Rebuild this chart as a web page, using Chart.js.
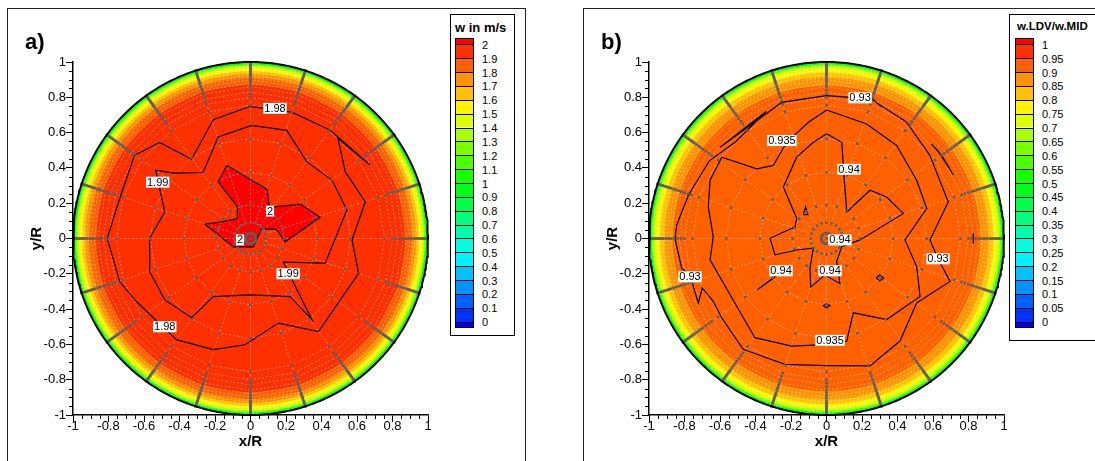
<!DOCTYPE html>
<html>
<head>
<meta charset="utf-8">
<title>w contours</title>
<script src="https://cdn.jsdelivr.net/npm/chart.js@4.4.1/dist/chart.umd.min.js"></script>
<style>
  body { margin: 0; width: 1095px; height: 461px; overflow: hidden; position: relative; background: #fff;
         font-family: "Liberation Sans", Arial, sans-serif; }
  .frame { position: absolute; border: 1px solid #222; }
  .tag { position: absolute; font-weight: bold; font-size: 22px; line-height: 22px; }
  canvas { position: absolute; top: 0; }
  .legend { position: absolute; border: 1px solid #000; background: #fff; }
  .legend .title { position: absolute; font-weight: bold; white-space: nowrap; }
  .legend .bar { position: absolute; border: 1px solid #000; width: 17px; }
  .legend .cell { position: absolute; left: 0; right: 0; box-sizing: border-box; }
  .legend .lbl { position: absolute; font-size: 11px; line-height: 11px; white-space: nowrap; }
</style>
</head>
<body>
<div class="frame" style="left:7px;top:8px;width:517px;height:470px"></div>
<div class="frame" style="left:583px;top:8px;width:600px;height:470px"></div>
<canvas id="chartA" width="540" height="461" style="left:0"></canvas>
<canvas id="chartB" width="535" height="461" style="left:560px"></canvas>
<div class="tag" style="left:25px;top:31px">a)</div>
<div class="tag" style="left:601px;top:31px">b)</div>
<div class="legend" id="legA" style="left:450px;top:14px;width:63px;height:320px"></div>
<div class="legend" id="legB" style="left:1009px;top:14px;width:120px;height:325px"></div>

<script>
//axis tick labels (x/R and y/R)
var tickLabels = ['-1', '-0.8', '-0.6', '-0.4', '-0.2', '0', '0.2', '0.4', '0.6', '0.8', '1'];

//legend levels
var aLegendLabels = ['2', '1.9', '1.8', '1.7', '1.6', '1.5', '1.4', '1.3', '1.2', '1.1', '1', '0.9', '0.8', '0.7', '0.6', '0.5', '0.4', '0.3', '0.2', '0.1', '0'];
var bLegendLabels = ['1', '0.95', '0.9', '0.85', '0.8', '0.75', '0.7', '0.65', '0.6', '0.55', '0.5', '0.45', '0.4', '0.35', '0.3', '0.25', '0.2', '0.15', '0.1', '0.05', '0'];

//measurement grid: spokes (deg) and probe radii
var spokeDeg = [0, 18, 36, 54, 72, 90, 108, 126, 144, 162, 180, 198, 216, 234, 252, 270, 288, 306, 324, 342];
var probeR = [0.03, 0.09, 0.19, 0.375, 0.565, 0.755, 0.8, 0.82, 0.84, 0.86, 0.875, 0.89, 0.905, 0.92, 0.93, 0.94, 0.95, 0.96, 0.97, 0.98, 0.99, 1.0];
var meshR = [0.09, 0.19, 0.375, 0.565, 0.755, 0.8, 0.83, 0.86, 0.88, 0.9, 0.915, 0.93, 0.945, 0.96, 0.975, 0.99];

//wall region: ring outer radius and value inside it
var aRingR = [1.0, 0.996, 0.992, 0.987, 0.981, 0.973, 0.962, 0.948, 0.932, 0.91, 0.87];
var aRingW = [0.45, 0.75, 0.95, 1.15, 1.35, 1.45, 1.55, 1.65, 1.75, 1.85, 1.95];
var bRingR = [1.0, 0.996, 0.992, 0.987, 0.98, 0.971, 0.958, 0.94, 0.913, 0.865];
var bRingW = [0.22, 0.37, 0.47, 0.57, 0.67, 0.72, 0.77, 0.82, 0.87, 0.93];

//panel a contour lines (x/R, y/R)
var a198 = [[0, 0.749], [0.233, 0.716], [0.449, 0.613], [0.675, 0.415], [0.493, 0.566], [0.534, 0.377], [0.647, 0.208], [0.572, -0.008], [0.609, -0.197], [0.383, -0.527], [0.157, -0.479], [-0.031, -0.602], [-0.21, -0.63], [-0.417, -0.573], [-0.643, -0.357], [-0.737, -0.244], [-0.807, 0.001], [-0.737, 0.227], [-0.653, 0.472], [-0.511, 0.544], [-0.332, 0.449], [-0.21, 0.673], [0, 0.749]];
var a199 = [[0.007, 0.641], [0.204, 0.613], [0.318, 0.434], [0.459, 0.331], [0.543, 0.161], [0.421, -0.14], [0.185, -0.134], [0.346, -0.46], [0.223, -0.329], [-0.003, -0.319], [-0.21, -0.329], [-0.332, -0.449], [-0.483, -0.347], [-0.568, -0.188], [-0.568, 0.001], [-0.483, 0.151], [-0.534, 0.387], [-0.432, 0.37], [-0.267, 0.374], [-0.182, 0.575], [0.007, 0.641]];
var a200 = [[-0.134, 0.415], [0.094, 0.278], [0.106, 0.176], [0.28, 0.195], [0.393, 0.12], [0.195, -0.019], [0.148, 0.05], [0.063, 0.056], [0.016, -0.047], [-0.031, -0.047], [-0.097, -0.047], [-0.257, 0.081], [-0.163, 0.094], [-0.074, 0.113], [-0.074, 0.18], [-0.182, 0.321], [-0.134, 0.415]];
var aLabelText = ['1.98', '1.98', '1.99', '1.99', '2', '2'];
var aLabelX = [0.138, -0.483, -0.523, 0.212, 0.11, -0.059];
var aLabelY = [0.737, -0.5, 0.319, -0.2, 0.155, -0.008];

//panel b contour lines
var b093 = [[0, 0.81], [-0.252, 0.771], [-0.6, 0.517], [-0.34, 0.72], [-0.51, 0.55], [-0.66, 0.44], [-0.778, 0.245], [-0.844, 0.076], [-0.854, 0], [-0.816, -0.168], [-0.769, -0.21], [-0.722, -0.365], [-0.7, -0.28], [-0.638, -0.356], [-0.59, -0.45], [-0.469, -0.628], [-0.234, -0.713], [0, -0.72], [0.245, -0.722], [0.414, -0.581], [0.508, -0.365], [0.696, -0.243], [0.628, -0.115], [0.583, -0.008], [0.686, 0.207], [0.583, 0.47], [0.45, 0.66], [0.28, 0.77], [0.311, 0.746], [0.26, 0.79], [0, 0.81]];
var b093Spike = [[0.59, 0.535], [0.65, 0.47], [0.715, 0.36], [0.625, 0.5], [0.59, 0.535]];
var b0935 = [[0.001, 0.728], [0.226, 0.649], [0.395, 0.527], [0.508, 0.33], [0.565, 0.17], [0.442, -0.008], [0.508, -0.159], [0.527, -0.328], [0.339, -0.459], [0.151, -0.421], [0.114, -0.581], [0.02, -0.6], [-0.196, -0.61], [-0.403, -0.562], [-0.506, -0.384], [-0.581, -0.252], [-0.656, -0.121], [-0.638, 0.01], [-0.666, 0.179], [-0.656, 0.33], [-0.59, 0.461], [-0.393, 0.395], [-0.3, 0.414], [-0.224, 0.545], [-0.1, 0.66], [0.001, 0.728]];
var b094 = [[0.001, 0.593], [0.086, 0.545], [0.099, 0.348], [0.114, 0.151], [0.245, 0.273], [0.339, 0.235], [0.433, 0.142], [0.189, -0.008], [0.086, -0.046], [0.057, -0.131], [0.076, -0.256], [-0.008, -0.206], [-0.089, -0.275], [-0.093, -0.168], [-0.074, -0.055], [-0.168, -0.065], [-0.29, -0.093], [-0.318, 0.001], [-0.177, 0.066], [-0.168, 0.114], [-0.243, 0.292], [-0.168, 0.461], [-0.074, 0.545], [0.001, 0.593]];
var b094Bits = [
  [[-0.39, -0.29], [-0.27, -0.2], [-0.3, -0.225], [-0.39, -0.29]],
  [[-0.13, 0.135], [-0.118, 0.18], [-0.105, 0.135], [-0.13, 0.135]],
  [[0.28, -0.222], [0.3, -0.205], [0.322, -0.225], [0.3, -0.24], [0.28, -0.222]],
  [[-0.02, -0.38], [0, -0.37], [0.02, -0.38], [0, -0.392], [-0.02, -0.38]],
  [[0.827, 0.03], [0.827, -0.03]]
];
var bLabelText = ['0.93', '0.93', '0.93', '0.935', '0.935', '0.94', '0.94', '0.94', '0.94'];
var bLabelX = [0.189, -0.769, 0.628, -0.251, 0.02, 0.127, 0.076, -0.256, 0.02];
var bLabelY = [0.797, -0.217, -0.115, 0.555, -0.577, 0.392, -0.008, -0.183, -0.183];

var FONT = '"Liberation Sans", Arial, sans-serif';
var GAP = {x: NaN, y: NaN};

function isMajor(v) {
    return Math.abs(v * 5 - Math.round(v * 5)) < 1e-6;
}

//legend cell k: 0 = above top level, 21 = below 0
function bandIndex(v, top, step) {
    if (v >= top) return 0;
    return Math.min(21, 1 + Math.floor((top - v) / step + 1e-9));
}
function bandColor(k) {
    return 'hsl(' + (240 * k / 21).toFixed(1) + ',100%,50%)';
}

function polar(r, deg) {
    var a = deg * Math.PI / 180;
    return {x: r * Math.cos(a), y: r * Math.sin(a)};
}
function circle(r, n) {
    var pts = [];
    for (var i = 0; i <= n; i++) pts.push(polar(r, 360 * i / n));
    return pts;
}
function toPts(list) {
    return list.map(function (p) { return {x: p[0], y: p[1]}; });
}
function joinLines(lines) {
    var out = [];
    lines.forEach(function (l) { out = out.concat(toPts(l)); out.push(GAP); });
    return out;
}

function meshData() {
    var pts = [];
    spokeDeg.forEach(function (d) { pts.push(polar(meshR[0], d), polar(1, d), GAP); });
    meshR.forEach(function (r) {
        spokeDeg.forEach(function (d) { pts.push(polar(r, d)); });
        pts.push(polar(r, spokeDeg[0]), GAP);
    });
    return pts;
}
function probeData() {
    var pts = [{x: 0, y: 0}];
    spokeDeg.forEach(function (d) {
        probeR.forEach(function (r) { pts.push(polar(r, d)); });
    });
    return pts;
}

function panelDatasets(p) {
    var ds = [];
    //colour flood, wall inwards
    p.ringR.forEach(function (r, i) {
        ds.push({data: circle(r, 200), showLine: true, fill: 'shape',
            backgroundColor: bandColor(bandIndex(p.ringW[i], p.top, p.step)),
            borderColor: 'rgba(0,0,0,0)', borderWidth: 0, pointRadius: 0});
    });
    //regions above the top level
    p.peaks.forEach(function (poly) {
        ds.push({data: toPts(poly), showLine: true, fill: 'shape', backgroundColor: bandColor(0),
            borderColor: 'rgba(0,0,0,0)', borderWidth: 0, pointRadius: 0});
    });
    //mesh
    ds.push({data: meshData(), showLine: true, borderColor: 'rgba(255,255,255,0.5)', borderWidth: 0.8,
        borderDash: [2, 2], pointRadius: 0});
    //contour lines
    ds.push({data: joinLines(p.lines), showLine: true, borderColor: '#000', borderWidth: 1.2, pointRadius: 0});
    //probe positions
    ds.push({data: probeData(), showLine: false, pointStyle: 'rect', pointRadius: 1.9,
        backgroundColor: '#5e5e5e', borderWidth: 0});
    //pipe wall
    ds.push({data: circle(1, 360), showLine: true, borderColor: '#000', borderWidth: 2, pointRadius: 0, clip: 6});
    ds.forEach(function (d, i) { d.order = -i; });
    return ds;
}

//short ticks between the labelled ones
var minorTicks = {
    id: 'minorTicks',
    afterDraw: function (chart) {
        var ctx = chart.ctx, xs = chart.scales.x, ys = chart.scales.y, a = chart.chartArea;
        ctx.save();
        ctx.strokeStyle = '#000';
        ctx.lineWidth = 1;
        ctx.beginPath();
        xs.ticks.forEach(function (t) {
            if (isMajor(t.value)) return;
            var p = Math.round(xs.getPixelForValue(t.value)) + 0.5;
            ctx.moveTo(p, a.bottom); ctx.lineTo(p, a.bottom + 4);
        });
        ys.ticks.forEach(function (t) {
            if (isMajor(t.value)) return;
            var p = Math.round(ys.getPixelForValue(t.value)) + 0.5;
            ctx.moveTo(a.left, p); ctx.lineTo(a.left - 4, p);
        });
        ctx.stroke();
        ctx.restore();
    }
};

function labelPlugin(texts, xs, ys) {
    return {
        id: 'contourLabels',
        afterDatasetsDraw: function (chart) {
            var ctx = chart.ctx, sx = chart.scales.x, sy = chart.scales.y;
            ctx.save();
            ctx.font = '11px ' + FONT;
            ctx.textAlign = 'center';
            ctx.textBaseline = 'middle';
            texts.forEach(function (t, i) {
                var px = sx.getPixelForValue(xs[i]), py = sy.getPixelForValue(ys[i]);
                var w = ctx.measureText(t).width + 2;
                ctx.fillStyle = '#fff';
                ctx.fillRect(px - w / 2, py - 5.5, w, 11);
                ctx.fillStyle = '#000';
                ctx.fillText(t, px, py + 0.5);
            });
            ctx.restore();
        }
    };
}

function axisOptions(title, isX) {
    return {
        type: 'linear', min: -1, max: 1,
        position: isX ? 'bottom' : 'left',
        afterFit: function (s) { if (isX) s.height = 40; else s.width = 50; },
        border: {display: true, color: '#000', width: 1.5},
        grid: {
            drawOnChartArea: false, drawTicks: true, tickLength: 7, tickWidth: 1,
            tickColor: function (c) { return c.tick && isMajor(c.tick.value) ? '#000' : 'rgba(0,0,0,0)'; }
        },
        ticks: {
            stepSize: 0.05, maxTicksLimit: 41, autoSkip: false, maxRotation: 0, minRotation: 0,
            padding: isX ? -3 : 0, color: '#000', font: {family: FONT, size: 13},
            callback: function (v) { return isMajor(v) ? tickLabels[Math.round((v + 1) * 5)] : ''; }
        },
        title: {
            display: true, text: title, color: '#000', font: {family: FONT, size: 15, weight: 'bold'},
            padding: isX ? {top: 0, bottom: 4} : {top: 5, bottom: 0}
        }
    };
}

function makeChart(id, panel, padLeft, padRight, labels) {
    return new Chart(document.getElementById(id), {
        type: 'scatter',
        data: {datasets: panelDatasets(panel)},
        options: {
            responsive: false, animation: false, devicePixelRatio: 1, events: [],
            layout: {padding: {left: padLeft, right: padRight, top: 62, bottom: 6}},
            elements: {point: {radius: 0, hoverRadius: 0}, line: {tension: 0}},
            plugins: {legend: {display: false}, tooltip: {enabled: false}},
            scales: {x: axisOptions('x/R', true), y: axisOptions('y/R', false)}
        },
        plugins: [minorTicks, labels]
    });
}

function buildLegend(id, title, titleSize, titleLeft, labels, barLeft, labelLeft) {
    var el = document.getElementById(id);
    var t = document.createElement('div');
    t.className = 'title';
    t.style.left = titleLeft + 'px';
    t.style.top = '5px';
    t.style.fontSize = titleSize + 'px';
    t.textContent = title;
    el.appendChild(t);

    var first = 5.6, cell = 13.87, last = 5;
    var bar = document.createElement('div');
    bar.className = 'bar';
    bar.style.left = barLeft + 'px';
    bar.style.top = '22.7px';
    bar.style.height = (first + cell * 20 + last) + 'px';
    el.appendChild(bar);
    for (var k = 0; k <= 21; k++) {
        var c = document.createElement('div');
        c.className = 'cell';
        var top = k === 0 ? 0 : first + (k - 1) * cell;
        var h = k === 0 ? first : (k === 21 ? last : cell);
        c.style.top = top + 'px';
        c.style.height = h + 'px';
        c.style.background = bandColor(k);
        if (k > 0) c.style.borderTop = '1px solid #000';
        bar.appendChild(c);
    }
    labels.forEach(function (txt, i) {
        var l = document.createElement('div');
        l.className = 'lbl';
        l.style.left = labelLeft + 'px';
        l.style.top = (22.7 + 1 + first + i * cell - 4.5) + 'px';
        l.textContent = txt;
        el.appendChild(l);
    });
}

makeChart('chartA', {
    top: 2, step: 0.1, ringR: aRingR, ringW: aRingW,
    peaks: [a200],
    lines: [a198, a199, a200]
}, 23, 112, labelPlugin(aLabelText, aLabelX, aLabelY));

makeChart('chartB', {
    top: 1, step: 0.05, ringR: bRingR, ringW: bRingW,
    peaks: [],
    lines: [b093, b093Spike, b0935, b094].concat(b094Bits)
}, 39, 91, labelPlugin(bLabelText, bLabelX, bLabelY));

buildLegend('legA', 'w in m/s', 13, 4, aLegendLabels, 4, 31);
buildLegend('legB', 'w.LDV/w.MID', 11.5, 7, bLegendLabels, 5, 32);
</script>
</body>
</html>
